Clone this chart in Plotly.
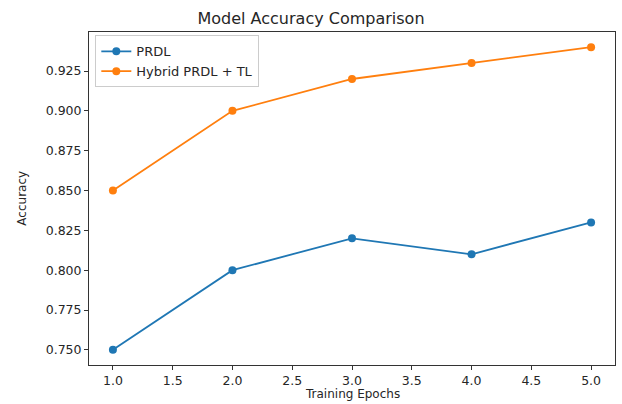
import plotly.graph_objects as go

epochs = [1, 2, 3, 4, 5]
prdl = [0.75, 0.80, 0.82, 0.81, 0.83]
hybrid = [0.85, 0.90, 0.92, 0.93, 0.94]
x_ticks = [1.0, 1.5, 2.0, 2.5, 3.0, 3.5, 4.0, 4.5, 5.0]
y_ticks = [0.750, 0.775, 0.800, 0.825, 0.850, 0.875, 0.900, 0.925]

font = "DejaVu Sans"
txt = "#262626"
fig = go.Figure()
fig.add_trace(go.Scatter(x=epochs, y=prdl, mode="lines+markers", name="PRDL",
                         line=dict(color="#1f77b4", width=1.8),
                         marker=dict(color="#1f77b4", size=8)))
fig.add_trace(go.Scatter(x=epochs, y=hybrid, mode="lines+markers", name="Hybrid PRDL + TL",
                         line=dict(color="#ff7f0e", width=1.8),
                         marker=dict(color="#ff7f0e", size=8)))

axis_common = dict(showgrid=False, zeroline=False, showline=True, linecolor="#333",
                   linewidth=1, mirror=True, ticks="outside", ticklen=4,
                   tickcolor="#333", automargin=False,
                   tickfont=dict(family=font, size=12.5, color=txt))
fig.update_layout(
    width=622, height=404,
    margin=dict(l=89, r=7, t=32, b=39),
    paper_bgcolor="white", plot_bgcolor="white",
    title=dict(text="Model Accuracy Comparison", x=0.5, xanchor="center",
               y=0.955, yanchor="middle", font=dict(family=font, size=16, color=txt)),
    xaxis=dict(range=[0.8, 5.2], tickvals=x_ticks,
               ticktext=[f"{v:.1f}" for v in x_ticks], **axis_common),
    yaxis=dict(range=[0.7405, 0.9495], tickvals=y_ticks,
               ticktext=[f"{v:.3f}" for v in y_ticks], **axis_common),
    legend=dict(x=0.012, y=0.99, xanchor="left", yanchor="top",
                bgcolor="rgba(255,255,255,0.8)", bordercolor="#cccccc", borderwidth=1,
                font=dict(family=font, size=13, color=txt),
                itemwidth=30, tracegroupgap=0),
    showlegend=True,
    annotations=[
        dict(text="Training Epochs", xref="paper", yref="paper", x=0.5, y=-0.087,
             xanchor="center", yanchor="middle", showarrow=False,
             font=dict(family=font, size=12, color=txt)),
        dict(text="Accuracy", xref="paper", yref="paper", x=-0.129, y=0.5,
             xanchor="center", yanchor="middle", showarrow=False, textangle=-90,
             font=dict(family=font, size=12, color=txt)),
    ],
)
fig.write_html("out.html", config={"displayModeBar": False},
               post_script="document.body.style.margin='0';")
